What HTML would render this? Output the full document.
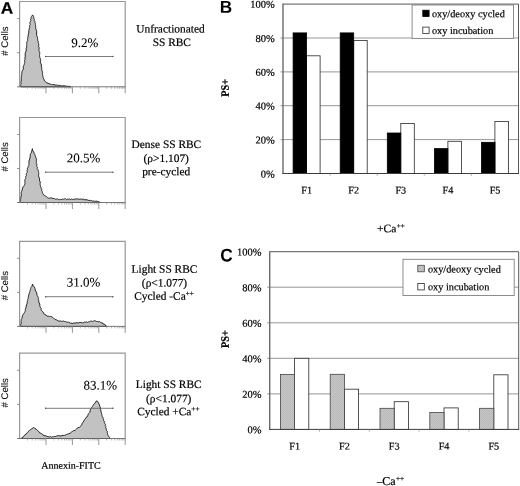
<!DOCTYPE html>
<html lang="en">
<head>
<meta charset="utf-8">
<title>Figure</title>
<style>
html,body{margin:0;padding:0;background:#fff;}
body{width:520px;height:486px;overflow:hidden;}
svg{display:block;}
</style>
</head>
<body>
<svg width="520" height="486" viewBox="0 0 520 486" text-rendering="geometricPrecision">
<rect width="520" height="486" fill="#fff"/>
<defs><pattern id="dots" width="2" height="2" patternUnits="userSpaceOnUse"><rect width="2" height="2" fill="#c6c6c6"/><rect width="1" height="1" fill="#bababa"/><rect x="1" y="1" width="1" height="1" fill="#bababa"/></pattern></defs>
<g>
<path d="M20.8,86.8 L20.7,85.7 L20.7,84.5 L21.2,83.4 L20.7,82.2 L21.2,81.1 L21.3,80.0 L21.3,78.9 L21.1,77.8 L21.6,76.8 L21.3,75.6 L21.7,74.6 L21.9,73.5 L21.8,72.3 L22.1,71.2 L22.7,70.2 L23.3,69.2 L23.3,68.0 L23.3,66.7 L23.7,65.6 L24.2,64.5 L24.4,63.5 L24.9,62.4 L24.6,61.3 L24.6,60.2 L25.3,59.2 L24.5,58.1 L25.4,57.1 L25.2,56.0 L25.2,55.0 L25.2,53.9 L25.3,52.9 L25.7,52.0 L26.0,51.0 L26.4,50.0 L26.0,48.8 L26.5,47.8 L26.7,46.8 L26.6,45.7 L26.9,44.7 L26.7,43.5 L26.8,42.5 L27.1,41.4 L27.7,40.4 L27.6,39.3 L27.8,38.3 L27.8,37.2 L28.2,36.2 L28.2,35.1 L28.3,34.0 L28.8,33.1 L28.9,32.0 L28.7,30.9 L29.1,29.9 L29.2,28.8 L29.7,27.8 L29.7,26.7 L29.5,25.6 L30.3,24.6 L30.0,23.5 L29.9,22.4 L30.4,21.5 L30.9,20.6 L30.6,19.4 L31.1,18.5 L31.0,17.4 L31.6,16.5 L32.6,14.9 L33.6,16.5 L33.7,17.5 L33.9,18.6 L34.3,19.5 L34.2,20.6 L35.0,21.5 L34.9,22.5 L35.3,23.5 L35.4,24.6 L35.5,25.6 L35.8,26.7 L35.6,27.8 L35.7,28.8 L36.3,29.8 L36.3,30.9 L36.9,31.9 L36.5,33.0 L36.7,34.1 L36.6,35.2 L36.9,36.2 L37.5,37.2 L37.5,38.3 L37.7,39.3 L37.6,40.3 L38.3,41.2 L38.1,42.3 L38.5,43.3 L38.7,44.3 L38.9,45.2 L38.4,46.3 L39.1,47.3 L39.1,48.3 L39.1,49.3 L38.8,50.3 L39.3,51.3 L39.8,52.3 L39.6,53.4 L39.7,54.5 L39.5,55.6 L39.7,56.6 L39.8,57.7 L40.4,58.7 L40.5,59.7 L40.6,60.8 L40.3,61.9 L40.4,63.0 L41.2,63.9 L41.4,65.0 L41.2,66.1 L41.6,67.1 L41.8,68.1 L41.7,69.2 L41.8,70.2 L42.2,71.2 L42.6,72.2 L42.4,73.3 L42.6,74.3 L42.7,75.4 L43.0,76.5 L43.1,77.7 L43.7,78.8 L44.2,79.8 L44.6,80.9 L45.3,81.7 L46.1,82.4 L47.0,83.0 L48.2,83.0 L49.0,84.0 L50.2,84.0 L51.4,84.4 L52.7,84.7 L54.0,84.6 L55.1,85.1 L56.4,85.0 L57.6,85.3 L58.7,85.4 L59.9,85.3 L60.9,85.9 L62.0,86.0 L63.3,85.7 L64.5,85.8 L65.7,86.0 L66.9,86.4 L68.0,86.2 L69.0,86.5 L70.0,86.3 L71.0,86.8 Z" fill="#c2c2c2" stroke="#1c1c1c" stroke-width="0.95" stroke-linejoin="round"/>
<path d="M19.6,86.8 V1.5 H125.2 V86.8" fill="none" stroke="#989898" stroke-width="1.2"/>
<path d="M17.1,86.8 H125.7" fill="none" stroke="#666" stroke-width="0.9"/>
<path d="M46.0,86.8 v6.5 M72.4,86.8 v6.5 M98.8,86.8 v6.5 M125.2,86.8 v6.5" stroke="#8a8a8a" stroke-width="0.9" fill="none"/>
<path d="M27.5,86.8 v2 M32.2,86.8 v2 M35.5,86.8 v2 M38.1,86.8 v2 M40.1,86.8 v2 M41.9,86.8 v2 M43.4,86.8 v2 M44.8,86.8 v2 M53.9,86.8 v2 M58.6,86.8 v2 M61.9,86.8 v2 M64.5,86.8 v2 M66.5,86.8 v2 M68.3,86.8 v2 M69.8,86.8 v2 M71.2,86.8 v2 M80.3,86.8 v2 M85.0,86.8 v2 M88.3,86.8 v2 M90.9,86.8 v2 M92.9,86.8 v2 M94.7,86.8 v2 M96.2,86.8 v2 M97.6,86.8 v2 M106.7,86.8 v2 M111.4,86.8 v2 M114.7,86.8 v2 M117.3,86.8 v2 M119.3,86.8 v2 M121.1,86.8 v2 M122.6,86.8 v2 M124.0,86.8 v2" stroke="#888" stroke-width="0.6" fill="none"/>
<path d="M17.1,18.6 h2.5 M17.1,52.7 h2.5" stroke="#777" stroke-width="0.8" fill="none"/>
<path d="M45.1,56.5 H113.3" stroke="#5a5a5a" stroke-width="0.8" fill="none"/>
<circle cx="45.6" cy="56.5" r="0.75" fill="#5a5a5a"/><circle cx="112.8" cy="56.5" r="0.75" fill="#5a5a5a"/>
<text transform="translate(84.7,46.9) rotate(0.03)" font-family="Liberation Serif, serif" font-size="13" text-anchor="middle" fill="#000" stroke="#000" stroke-width="0.08">9.2%</text>
<text transform="translate(8.1,41.0) rotate(-90.03)" font-family="Liberation Sans, sans-serif" font-size="9.6" text-anchor="middle" fill="#111" stroke="#111" stroke-width="0.1"># Cells</text>
<text transform="translate(170.5,32.6) rotate(0.03)" font-family="Liberation Serif, serif" font-size="11.4" text-anchor="middle" fill="#000" stroke="#000" stroke-width="0.2">Unfractionated</text>
<text transform="translate(171.8,45.9) rotate(0.03)" font-family="Liberation Serif, serif" font-size="11.4" text-anchor="middle" fill="#000" stroke="#000" stroke-width="0.2">SS RBC</text>
</g>
<g>
<path d="M20.8,202.5 L20.4,201.4 L20.6,200.3 L20.6,199.2 L20.9,198.1 L20.6,197.0 L21.4,196.0 L21.3,194.9 L21.2,193.8 L21.2,192.6 L21.6,191.4 L22.0,190.3 L22.3,189.1 L22.7,188.0 L23.2,186.6 L24.2,185.6 L24.7,184.6 L25.0,183.7 L24.8,182.6 L25.0,181.5 L24.8,180.5 L25.0,179.4 L25.6,178.5 L25.7,177.5 L25.8,176.4 L26.5,175.5 L26.2,174.4 L26.3,173.4 L27.3,172.5 L27.2,171.4 L27.0,170.4 L27.6,169.4 L27.4,168.3 L28.0,167.4 L28.2,166.4 L28.8,165.4 L28.9,164.3 L29.0,163.3 L28.8,162.1 L29.1,161.1 L29.1,160.0 L29.8,159.1 L29.8,158.0 L30.2,157.0 L30.2,155.9 L30.3,154.8 L30.5,153.8 L31.3,152.9 L31.7,151.9 L31.6,150.8 L32.3,149.8 L32.3,148.6 L32.5,149.9 L33.0,151.1 L33.8,152.2 L34.0,153.3 L34.8,154.2 L34.9,155.3 L35.4,156.2 L35.6,157.3 L36.2,158.2 L36.4,159.2 L36.3,160.3 L36.5,161.3 L36.3,162.4 L36.3,163.4 L36.9,164.4 L36.7,165.4 L36.8,166.5 L37.4,167.4 L37.2,168.5 L37.9,169.5 L38.2,170.5 L38.4,171.5 L38.6,172.6 L38.8,173.6 L38.6,174.7 L38.6,175.8 L38.8,176.9 L39.3,177.9 L39.5,178.9 L39.6,180.0 L39.6,181.1 L40.4,182.1 L40.1,183.3 L40.1,184.4 L40.4,185.5 L40.6,186.6 L41.0,187.6 L41.3,188.6 L41.8,189.5 L41.6,190.7 L42.3,191.6 L42.4,192.6 L42.9,193.7 L43.5,194.8 L44.6,195.5 L45.6,196.1 L46.6,196.8 L47.5,197.6 L48.6,198.2 L49.7,198.2 L51.0,197.9 L52.1,198.1 L53.2,198.6 L54.3,198.4 L55.2,199.2 L56.3,199.2 L57.3,198.7 L58.3,199.5 L59.3,199.7 L60.4,199.4 L61.4,199.5 L62.5,199.2 L63.5,199.3 L64.5,198.9 L65.5,198.7 L66.6,199.6 L67.6,199.1 L68.6,199.2 L69.7,199.1 L70.7,199.5 L71.7,199.0 L72.7,199.4 L73.8,199.4 L74.8,199.1 L75.8,198.9 L76.8,198.9 L77.8,199.0 L78.8,199.0 L79.8,199.3 L80.8,199.0 L81.8,199.2 L82.8,199.3 L83.9,199.1 L84.9,200.0 L86.0,199.6 L87.1,199.9 L88.1,200.2 L89.2,200.6 L90.3,200.4 L91.4,200.5 L92.4,201.1 L93.6,201.0 L94.6,201.2 L95.7,201.3 L96.9,201.1 L97.9,201.7 L99.3,202.0 L100.6,202.5 Z" fill="#c2c2c2" stroke="#1c1c1c" stroke-width="0.95" stroke-linejoin="round"/>
<path d="M19.6,202.5 V117.5 H125.2 V202.5" fill="none" stroke="#989898" stroke-width="1.2"/>
<path d="M17.1,202.5 H125.7" fill="none" stroke="#666" stroke-width="0.9"/>
<path d="M46.0,202.5 v6.5 M72.4,202.5 v6.5 M98.8,202.5 v6.5 M125.2,202.5 v6.5" stroke="#8a8a8a" stroke-width="0.9" fill="none"/>
<path d="M27.5,202.5 v2 M32.2,202.5 v2 M35.5,202.5 v2 M38.1,202.5 v2 M40.1,202.5 v2 M41.9,202.5 v2 M43.4,202.5 v2 M44.8,202.5 v2 M53.9,202.5 v2 M58.6,202.5 v2 M61.9,202.5 v2 M64.5,202.5 v2 M66.5,202.5 v2 M68.3,202.5 v2 M69.8,202.5 v2 M71.2,202.5 v2 M80.3,202.5 v2 M85.0,202.5 v2 M88.3,202.5 v2 M90.9,202.5 v2 M92.9,202.5 v2 M94.7,202.5 v2 M96.2,202.5 v2 M97.6,202.5 v2 M106.7,202.5 v2 M111.4,202.5 v2 M114.7,202.5 v2 M117.3,202.5 v2 M119.3,202.5 v2 M121.1,202.5 v2 M122.6,202.5 v2 M124.0,202.5 v2" stroke="#888" stroke-width="0.6" fill="none"/>
<path d="M17.1,134.5 h2.5 M17.1,168.5 h2.5" stroke="#777" stroke-width="0.8" fill="none"/>
<path d="M45.1,172.2 H113.3" stroke="#5a5a5a" stroke-width="0.8" fill="none"/>
<circle cx="45.6" cy="172.2" r="0.75" fill="#5a5a5a"/><circle cx="112.8" cy="172.2" r="0.75" fill="#5a5a5a"/>
<text transform="translate(83.5,162.2) rotate(0.03)" font-family="Liberation Serif, serif" font-size="13" text-anchor="middle" fill="#000" stroke="#000" stroke-width="0.08">20.5%</text>
<text transform="translate(8.1,156.9) rotate(-90.03)" font-family="Liberation Sans, sans-serif" font-size="9.6" text-anchor="middle" fill="#111" stroke="#111" stroke-width="0.1"># Cells</text>
<text transform="translate(166.4,148.1) rotate(0.03)" font-family="Liberation Serif, serif" font-size="11.4" text-anchor="middle" fill="#000" stroke="#000" stroke-width="0.2">Dense SS RBC</text>
<text transform="translate(166.2,162) rotate(0.03)" font-family="Liberation Serif, serif" font-size="11.4" text-anchor="middle" fill="#000" stroke="#000" stroke-width="0.2">(ρ&gt;1.107)</text>
<text transform="translate(166.2,175.2) rotate(0.03)" font-family="Liberation Serif, serif" font-size="11.4" text-anchor="middle" fill="#000" stroke="#000" stroke-width="0.2">pre-cycled</text>
</g>
<g>
<path d="M20.9,326.4 L20.7,325.2 L20.6,324.1 L21.4,323.0 L20.9,321.8 L21.2,320.6 L21.3,319.5 L21.9,318.4 L22.2,317.2 L22.4,315.9 L23.0,314.8 L23.7,313.7 L24.4,312.6 L25.0,311.4 L25.5,310.4 L25.2,309.2 L25.9,308.2 L25.9,307.1 L26.4,306.1 L26.4,304.9 L27.1,303.9 L27.1,302.8 L27.3,301.6 L27.7,300.6 L27.7,299.4 L28.3,298.4 L28.2,297.2 L28.6,296.1 L28.8,294.9 L29.1,293.8 L29.4,292.7 L29.9,291.7 L30.0,290.6 L30.4,289.5 L30.7,288.5 L31.0,287.4 L31.9,286.4 L32.2,285.2 L32.6,284.0 L32.8,285.1 L33.2,286.1 L34.3,286.7 L34.6,287.8 L35.1,288.7 L35.1,289.9 L35.5,291.0 L36.4,292.0 L36.8,293.1 L36.8,294.3 L37.1,295.4 L37.8,296.3 L38.0,297.4 L38.5,298.5 L38.3,299.7 L38.8,300.7 L38.8,301.9 L39.0,303.0 L39.9,304.0 L39.7,305.2 L40.0,306.3 L40.4,307.4 L41.2,308.3 L41.1,309.6 L41.5,310.6 L42.4,311.4 L43.3,312.1 L43.4,313.4 L44.5,313.9 L45.1,314.8 L46.2,315.2 L47.1,316.1 L48.4,316.1 L49.5,316.6 L50.7,316.3 L51.8,316.8 L52.7,317.4 L53.4,318.2 L54.4,318.7 L55.1,319.5 L56.2,319.7 L57.2,320.2 L58.0,321.0 L59.1,321.2 L60.2,320.8 L61.3,321.4 L62.3,321.3 L63.4,321.0 L64.5,321.5 L65.6,321.6 L66.6,322.1 L67.7,322.3 L68.8,322.2 L69.8,322.8 L70.8,323.3 L71.9,323.2 L72.9,323.5 L74.0,322.8 L75.0,323.2 L76.0,322.9 L77.0,322.6 L78.1,323.2 L79.1,322.6 L80.1,322.4 L81.2,322.6 L82.2,322.9 L83.3,322.8 L84.3,322.2 L85.3,322.3 L86.3,321.8 L87.4,322.4 L88.3,321.9 L89.4,321.9 L90.3,321.2 L91.3,321.1 L92.4,321.5 L93.4,321.1 L94.3,320.7 L95.4,320.9 L96.3,321.5 L97.4,321.5 L98.3,321.9 L99.5,321.5 L100.4,322.1 L101.2,322.9 L102.4,322.8 L103.0,323.9 L104.1,324.1 L105.0,324.8 L106.0,325.5 L106.8,326.4 Z" fill="#c2c2c2" stroke="#1c1c1c" stroke-width="0.95" stroke-linejoin="round"/>
<path d="M19.6,326.4 V241.3 H125.2 V326.4" fill="none" stroke="#989898" stroke-width="1.2"/>
<path d="M17.1,326.4 H125.7" fill="none" stroke="#666" stroke-width="0.9"/>
<path d="M46.0,326.4 v6.5 M72.4,326.4 v6.5 M98.8,326.4 v6.5 M125.2,326.4 v6.5" stroke="#8a8a8a" stroke-width="0.9" fill="none"/>
<path d="M27.5,326.4 v2 M32.2,326.4 v2 M35.5,326.4 v2 M38.1,326.4 v2 M40.1,326.4 v2 M41.9,326.4 v2 M43.4,326.4 v2 M44.8,326.4 v2 M53.9,326.4 v2 M58.6,326.4 v2 M61.9,326.4 v2 M64.5,326.4 v2 M66.5,326.4 v2 M68.3,326.4 v2 M69.8,326.4 v2 M71.2,326.4 v2 M80.3,326.4 v2 M85.0,326.4 v2 M88.3,326.4 v2 M90.9,326.4 v2 M92.9,326.4 v2 M94.7,326.4 v2 M96.2,326.4 v2 M97.6,326.4 v2 M106.7,326.4 v2 M111.4,326.4 v2 M114.7,326.4 v2 M117.3,326.4 v2 M119.3,326.4 v2 M121.1,326.4 v2 M122.6,326.4 v2 M124.0,326.4 v2" stroke="#888" stroke-width="0.6" fill="none"/>
<path d="M17.1,258.3 h2.5 M17.1,292.4 h2.5" stroke="#777" stroke-width="0.8" fill="none"/>
<path d="M45.1,296.7 H113.3" stroke="#5a5a5a" stroke-width="0.8" fill="none"/>
<circle cx="45.6" cy="296.7" r="0.75" fill="#5a5a5a"/><circle cx="112.8" cy="296.7" r="0.75" fill="#5a5a5a"/>
<text transform="translate(83.5,286.5) rotate(0.03)" font-family="Liberation Serif, serif" font-size="13" text-anchor="middle" fill="#000" stroke="#000" stroke-width="0.08">31.0%</text>
<text transform="translate(8.1,285.7) rotate(-90.03)" font-family="Liberation Sans, sans-serif" font-size="9.6" text-anchor="middle" fill="#111" stroke="#111" stroke-width="0.1"># Cells</text>
<text transform="translate(164.5,272.7) rotate(0.03)" font-family="Liberation Serif, serif" font-size="11.4" text-anchor="middle" fill="#000" stroke="#000" stroke-width="0.2">Light SS RBC</text>
<text transform="translate(164.5,286.5) rotate(0.03)" font-family="Liberation Serif, serif" font-size="11.4" text-anchor="middle" fill="#000" stroke="#000" stroke-width="0.2">(ρ&lt;1.077)</text>
<text transform="translate(164,299.8) rotate(0.03)" font-family="Liberation Serif, serif" font-size="11.4" text-anchor="middle" fill="#000" stroke="#000" stroke-width="0.2">Cycled -Ca<tspan dy='-4' font-size='7.2'>++</tspan></text>
</g>
<g>
<path d="M20.9,438.5 L21.8,437.9 L22.9,437.5 L23.4,436.3 L24.4,435.8 L25.0,434.7 L26.1,434.2 L26.7,433.2 L27.7,432.5 L28.2,431.6 L29.0,430.9 L29.6,430.2 L30.5,429.6 L31.4,429.1 L32.2,428.5 L33.1,427.9 L34.1,427.6 L34.9,428.5 L36.0,428.9 L36.8,429.8 L37.5,430.6 L38.5,431.2 L39.1,432.0 L39.7,432.9 L40.8,433.1 L41.5,433.8 L42.5,434.2 L43.1,435.1 L44.0,435.6 L45.1,435.8 L46.2,435.9 L47.1,436.5 L48.2,436.6 L49.2,437.1 L50.3,436.4 L51.3,437.1 L52.4,436.9 L53.5,436.6 L54.6,436.5 L55.7,436.5 L56.7,435.9 L57.8,435.8 L58.9,435.7 L59.9,435.8 L61.0,436.1 L62.0,435.4 L63.1,435.5 L64.3,435.4 L65.3,435.0 L66.4,434.6 L67.4,434.1 L68.5,433.8 L70.3,433.1 L71.1,432.4 L71.9,431.7 L72.8,431.2 L73.7,430.6 L74.9,430.5 L75.7,429.8 L76.5,429.0 L77.3,428.2 L78.1,427.5 L79.4,427.4 L80.3,426.7 L81.0,425.8 L81.7,424.9 L82.0,423.8 L82.6,422.8 L83.2,421.9 L83.9,421.0 L84.3,419.9 L85.1,419.1 L85.6,418.2 L86.1,417.3 L87.2,416.8 L87.7,415.9 L88.0,414.8 L88.3,413.8 L89.1,413.1 L89.9,412.3 L89.9,411.1 L90.4,410.2 L90.6,409.1 L91.4,408.3 L91.9,407.3 L92.4,406.4 L93.1,405.6 L93.5,404.5 L94.4,403.9 L95.1,403.0 L95.8,401.6 L97.1,400.8 L97.9,401.8 L98.4,403.0 L99.1,403.9 L99.2,405.0 L99.8,405.9 L100.1,406.9 L100.2,408.0 L100.4,409.1 L100.9,410.1 L100.9,411.2 L101.3,412.2 L101.4,413.3 L101.8,414.3 L102.0,415.4 L102.2,416.4 L102.9,417.3 L103.1,418.4 L103.6,419.3 L103.4,420.5 L104.4,421.3 L104.3,422.5 L104.7,423.4 L105.5,424.3 L105.2,425.5 L105.8,426.4 L105.7,427.5 L106.2,428.5 L106.3,429.5 L106.5,430.5 L107.4,431.4 L107.3,432.5 L107.5,433.5 L107.8,434.5 L108.2,435.7 L108.9,436.7 L109.6,437.7 L110.5,438.5 Z" fill="#c2c2c2" stroke="#1c1c1c" stroke-width="0.95" stroke-linejoin="round"/>
<path d="M19.6,438.5 V353.2 H125.2 V438.5" fill="none" stroke="#989898" stroke-width="1.2"/>
<path d="M17.1,438.5 H125.7" fill="none" stroke="#666" stroke-width="0.9"/>
<path d="M46.0,438.5 v6.5 M72.4,438.5 v6.5 M98.8,438.5 v6.5 M125.2,438.5 v6.5" stroke="#8a8a8a" stroke-width="0.9" fill="none"/>
<path d="M27.5,438.5 v2 M32.2,438.5 v2 M35.5,438.5 v2 M38.1,438.5 v2 M40.1,438.5 v2 M41.9,438.5 v2 M43.4,438.5 v2 M44.8,438.5 v2 M53.9,438.5 v2 M58.6,438.5 v2 M61.9,438.5 v2 M64.5,438.5 v2 M66.5,438.5 v2 M68.3,438.5 v2 M69.8,438.5 v2 M71.2,438.5 v2 M80.3,438.5 v2 M85.0,438.5 v2 M88.3,438.5 v2 M90.9,438.5 v2 M92.9,438.5 v2 M94.7,438.5 v2 M96.2,438.5 v2 M97.6,438.5 v2 M106.7,438.5 v2 M111.4,438.5 v2 M114.7,438.5 v2 M117.3,438.5 v2 M119.3,438.5 v2 M121.1,438.5 v2 M122.6,438.5 v2 M124.0,438.5 v2" stroke="#888" stroke-width="0.6" fill="none"/>
<path d="M17.1,370.3 h2.5 M17.1,404.4 h2.5" stroke="#777" stroke-width="0.8" fill="none"/>
<path d="M45.1,408.3 H113.3" stroke="#5a5a5a" stroke-width="0.8" fill="none"/>
<circle cx="45.6" cy="408.3" r="0.75" fill="#5a5a5a"/><circle cx="112.8" cy="408.3" r="0.75" fill="#5a5a5a"/>
<text transform="translate(100.4,389.4) rotate(0.03)" font-family="Liberation Serif, serif" font-size="13" text-anchor="middle" fill="#000" stroke="#000" stroke-width="0.08">83.1%</text>
<text transform="translate(8.1,392.8) rotate(-90.03)" font-family="Liberation Sans, sans-serif" font-size="9.6" text-anchor="middle" fill="#111" stroke="#111" stroke-width="0.1"># Cells</text>
<text transform="translate(168.7,388.1) rotate(0.03)" font-family="Liberation Serif, serif" font-size="11.4" text-anchor="middle" fill="#000" stroke="#000" stroke-width="0.2">Light SS RBC</text>
<text transform="translate(168.7,402.2) rotate(0.03)" font-family="Liberation Serif, serif" font-size="11.4" text-anchor="middle" fill="#000" stroke="#000" stroke-width="0.2">(ρ&lt;1.077)</text>
<text transform="translate(168.3,415.2) rotate(0.03)" font-family="Liberation Serif, serif" font-size="11.4" text-anchor="middle" fill="#000" stroke="#000" stroke-width="0.2">Cycled +Ca<tspan dy='-4' font-size='7.2'>++</tspan></text>
</g>
<text transform="translate(0.8,13.85) rotate(0.03) scale(1.03,1)" font-family="Liberation Sans, sans-serif" font-size="16.8" font-weight="bold" fill="#000" stroke="#000" stroke-width="0.2">A</text>
<text transform="translate(219.8,12.7) rotate(0.03)" font-family="Liberation Sans, sans-serif" font-size="17.2" font-weight="bold" fill="#000">B</text>
<text transform="translate(220.2,261.6) rotate(0.03) scale(0.94,1)" font-family="Liberation Sans, sans-serif" font-size="18.4" font-weight="bold" fill="#000">C</text>
<text transform="translate(71,468.8) rotate(0.03)" font-family="Liberation Serif, serif" font-size="10" text-anchor="middle" fill="#000" stroke="#000" stroke-width="0.2">Annexin-FITC</text>
<g>
<path d="M280.5,139.6 H518.5" stroke="#8a8a8a" stroke-width="0.9" fill="none"/>
<path d="M280.5,105.7 H518.5" stroke="#8a8a8a" stroke-width="0.9" fill="none"/>
<path d="M280.5,71.9 H518.5" stroke="#8a8a8a" stroke-width="0.9" fill="none"/>
<path d="M280.5,38.0 H518.5" stroke="#8a8a8a" stroke-width="0.9" fill="none"/>
<rect x="306.6" y="55.8" width="13.5" height="117.7" fill="#fff" stroke="#2a2a2a" stroke-width="0.8"/>
<rect x="293.1" y="32.9" width="13.5" height="140.6" fill="#000" stroke="#000" stroke-width="0.8"/>
<text transform="translate(306.6,193.6) rotate(0.03)" font-family="Liberation Serif, serif" font-size="10.2" text-anchor="middle" fill="#000" stroke="#000" stroke-width="0.2">F1</text>
<rect x="353.7" y="40.5" width="13.5" height="133.0" fill="#fff" stroke="#2a2a2a" stroke-width="0.8"/>
<rect x="340.2" y="32.9" width="13.5" height="140.6" fill="#000" stroke="#000" stroke-width="0.8"/>
<text transform="translate(353.6,193.6) rotate(0.03)" font-family="Liberation Serif, serif" font-size="10.2" text-anchor="middle" fill="#000" stroke="#000" stroke-width="0.2">F2</text>
<rect x="400.8" y="123.5" width="13.5" height="50.0" fill="#fff" stroke="#2a2a2a" stroke-width="0.8"/>
<rect x="387.3" y="133.0" width="13.5" height="40.5" fill="#000" stroke="#000" stroke-width="0.8"/>
<text transform="translate(400.8,193.6) rotate(0.03)" font-family="Liberation Serif, serif" font-size="10.2" text-anchor="middle" fill="#000" stroke="#000" stroke-width="0.2">F3</text>
<rect x="447.9" y="141.3" width="13.5" height="32.2" fill="#fff" stroke="#2a2a2a" stroke-width="0.8"/>
<rect x="434.4" y="148.6" width="13.5" height="24.9" fill="#000" stroke="#000" stroke-width="0.8"/>
<text transform="translate(447.9,193.6) rotate(0.03)" font-family="Liberation Serif, serif" font-size="10.2" text-anchor="middle" fill="#000" stroke="#000" stroke-width="0.2">F4</text>
<rect x="494.9" y="121.5" width="13.5" height="52.0" fill="#fff" stroke="#2a2a2a" stroke-width="0.8"/>
<rect x="481.5" y="142.3" width="13.5" height="31.2" fill="#000" stroke="#000" stroke-width="0.8"/>
<text transform="translate(495.0,193.6) rotate(0.03)" font-family="Liberation Serif, serif" font-size="10.2" text-anchor="middle" fill="#000" stroke="#000" stroke-width="0.2">F5</text>
<path d="M283,4.1 H518.5 V173.5" fill="none" stroke="#585858" stroke-width="1"/>
<path d="M283,3.5999999999999996 V173.5" stroke="#6a6a6a" stroke-width="1.4" fill="none"/>
<path d="M282.3,173.5 H519.0" stroke="#3c3c3c" stroke-width="1" fill="none"/>
<path d="M330.1,173.5 v2.2 M377.2,173.5 v2.2 M424.3,173.5 v2.2 M471.4,173.5 v2.2" stroke="#888" stroke-width="0.7" fill="none"/>
<text transform="translate(274.8,177.4) rotate(0.03)" font-family="Liberation Serif, serif" font-size="10.5" text-anchor="end" fill="#000" stroke="#000" stroke-width="0.2">0%</text>
<text transform="translate(274.8,143.5) rotate(0.03)" font-family="Liberation Serif, serif" font-size="10.5" text-anchor="end" fill="#000" stroke="#000" stroke-width="0.2">20%</text>
<text transform="translate(274.8,109.6) rotate(0.03)" font-family="Liberation Serif, serif" font-size="10.5" text-anchor="end" fill="#000" stroke="#000" stroke-width="0.2">40%</text>
<text transform="translate(274.8,75.8) rotate(0.03)" font-family="Liberation Serif, serif" font-size="10.5" text-anchor="end" fill="#000" stroke="#000" stroke-width="0.2">60%</text>
<text transform="translate(274.8,41.9) rotate(0.03)" font-family="Liberation Serif, serif" font-size="10.5" text-anchor="end" fill="#000" stroke="#000" stroke-width="0.2">80%</text>
<text transform="translate(274.8,7.8) rotate(0.03)" font-family="Liberation Serif, serif" font-size="10.5" text-anchor="end" fill="#000" stroke="#000" stroke-width="0.2">100%</text>
<rect x="412.1" y="5" width="101.4" height="33.4" fill="#fff" stroke="#808080" stroke-width="0.9"/>
<rect x="422.8" y="10.2" width="6.3" height="6.3" fill="#000" stroke="#000" stroke-width="0.8"/>
<rect x="422.8" y="27.1" width="6.3" height="6.3" fill="#fff" stroke="#2a2a2a" stroke-width="0.8"/>
<text transform="translate(431.9,17.2) rotate(0.03)" font-family="Liberation Serif, serif" font-size="10.3" fill="#000" stroke="#000" stroke-width="0.2">oxy/deoxy cycled</text>
<text transform="translate(431.9,33.9) rotate(0.03)" font-family="Liberation Serif, serif" font-size="10.3" fill="#000" stroke="#000" stroke-width="0.2">oxy incubation</text>
<text transform="translate(377,232.2) rotate(0.03)" font-family="Liberation Serif, serif" font-size="11.5" fill="#000" stroke="#000" stroke-width="0.2">+Ca<tspan dx='0.5' dy='-3.9' font-size='7.2'>++</tspan></text>
<text transform="translate(228.7,87.8) rotate(-90.03) scale(1.03,1.12)" font-family="Liberation Serif, serif" font-size="10" font-weight="bold" text-anchor="middle" fill="#000" stroke="#000" stroke-width="0.25">PS+</text>
</g>
<g>
<path d="M267.2,393.9 H518.7" stroke="#8a8a8a" stroke-width="0.9" fill="none"/>
<path d="M267.2,358.3 H518.7" stroke="#8a8a8a" stroke-width="0.9" fill="none"/>
<path d="M267.2,322.8 H518.7" stroke="#8a8a8a" stroke-width="0.9" fill="none"/>
<path d="M267.2,287.2 H518.7" stroke="#8a8a8a" stroke-width="0.9" fill="none"/>
<rect x="294.6" y="358.3" width="14.2" height="71.1" fill="#fff" stroke="#2a2a2a" stroke-width="0.8"/>
<rect x="280.4" y="374.5" width="14.2" height="54.9" fill="url(#dots)" stroke="#444" stroke-width="0.8"/>
<text transform="translate(294.6,449.6) rotate(0.03)" font-family="Liberation Serif, serif" font-size="10.2" text-anchor="middle" fill="#000" stroke="#000" stroke-width="0.2">F1</text>
<rect x="344.4" y="389.2" width="14.2" height="40.2" fill="#fff" stroke="#2a2a2a" stroke-width="0.8"/>
<rect x="330.2" y="374.3" width="14.2" height="55.1" fill="url(#dots)" stroke="#444" stroke-width="0.8"/>
<text transform="translate(344.4,449.6) rotate(0.03)" font-family="Liberation Serif, serif" font-size="10.2" text-anchor="middle" fill="#000" stroke="#000" stroke-width="0.2">F2</text>
<rect x="394.2" y="401.7" width="14.2" height="27.7" fill="#fff" stroke="#2a2a2a" stroke-width="0.8"/>
<rect x="380.0" y="408.3" width="14.2" height="21.1" fill="url(#dots)" stroke="#444" stroke-width="0.8"/>
<text transform="translate(394.2,449.6) rotate(0.03)" font-family="Liberation Serif, serif" font-size="10.2" text-anchor="middle" fill="#000" stroke="#000" stroke-width="0.2">F3</text>
<rect x="444.0" y="407.9" width="14.2" height="21.5" fill="#fff" stroke="#2a2a2a" stroke-width="0.8"/>
<rect x="429.8" y="412.5" width="14.2" height="16.9" fill="url(#dots)" stroke="#444" stroke-width="0.8"/>
<text transform="translate(444.0,449.6) rotate(0.03)" font-family="Liberation Serif, serif" font-size="10.2" text-anchor="middle" fill="#000" stroke="#000" stroke-width="0.2">F4</text>
<rect x="493.8" y="374.8" width="14.2" height="54.6" fill="#fff" stroke="#2a2a2a" stroke-width="0.8"/>
<rect x="479.6" y="408.3" width="14.2" height="21.1" fill="url(#dots)" stroke="#444" stroke-width="0.8"/>
<text transform="translate(493.8,449.6) rotate(0.03)" font-family="Liberation Serif, serif" font-size="10.2" text-anchor="middle" fill="#000" stroke="#000" stroke-width="0.2">F5</text>
<path d="M269.7,251.7 H518.7 V429.4" fill="none" stroke="#585858" stroke-width="1"/>
<path d="M269.7,251.2 V429.4" stroke="#6a6a6a" stroke-width="1.4" fill="none"/>
<path d="M269.0,429.4 H519.2" stroke="#3c3c3c" stroke-width="1" fill="none"/>
<path d="M319.5,429.4 v2.2 M369.3,429.4 v2.2 M419.1,429.4 v2.2 M468.9,429.4 v2.2" stroke="#888" stroke-width="0.7" fill="none"/>
<text transform="translate(261.6,433.3) rotate(0.03)" font-family="Liberation Serif, serif" font-size="10.5" text-anchor="end" fill="#000" stroke="#000" stroke-width="0.2">0%</text>
<text transform="translate(261.6,397.8) rotate(0.03)" font-family="Liberation Serif, serif" font-size="10.5" text-anchor="end" fill="#000" stroke="#000" stroke-width="0.2">20%</text>
<text transform="translate(261.6,362.3) rotate(0.03)" font-family="Liberation Serif, serif" font-size="10.5" text-anchor="end" fill="#000" stroke="#000" stroke-width="0.2">40%</text>
<text transform="translate(261.6,326.7) rotate(0.03)" font-family="Liberation Serif, serif" font-size="10.5" text-anchor="end" fill="#000" stroke="#000" stroke-width="0.2">60%</text>
<text transform="translate(261.6,291.2) rotate(0.03)" font-family="Liberation Serif, serif" font-size="10.5" text-anchor="end" fill="#000" stroke="#000" stroke-width="0.2">80%</text>
<text transform="translate(261.6,255.6) rotate(0.03)" font-family="Liberation Serif, serif" font-size="10.5" text-anchor="end" fill="#000" stroke="#000" stroke-width="0.2">100%</text>
<rect x="403" y="259.3" width="111.2" height="36.2" fill="#fff" stroke="#808080" stroke-width="0.9"/>
<rect x="417.8" y="265.3" width="6.5" height="6.5" fill="url(#dots)" stroke="#444" stroke-width="0.8"/>
<rect x="417.8" y="283.4" width="6.5" height="6.5" fill="#fff" stroke="#2a2a2a" stroke-width="0.8"/>
<text transform="translate(427.9,272.6) rotate(0.03)" font-family="Liberation Serif, serif" font-size="10.3" fill="#000" stroke="#000" stroke-width="0.2">oxy/deoxy cycled</text>
<text transform="translate(427.9,290.2) rotate(0.03)" font-family="Liberation Serif, serif" font-size="10.3" fill="#000" stroke="#000" stroke-width="0.2">oxy incubation</text>
<text transform="translate(377,484.9) rotate(0.03)" font-family="Liberation Serif, serif" font-size="11.5" fill="#000" stroke="#000" stroke-width="0.2"><tspan font-size='10.4'>–</tspan><tspan font-size='12'>Ca</tspan><tspan dx='0.5' dy='-3.9' font-size='7.2'>++</tspan></text>
<text transform="translate(228.7,339.1) rotate(-90.03) scale(1.03,1.12)" font-family="Liberation Serif, serif" font-size="10" font-weight="bold" text-anchor="middle" fill="#000" stroke="#000" stroke-width="0.25">PS+</text>
</g>
</svg>
</body>
</html>
